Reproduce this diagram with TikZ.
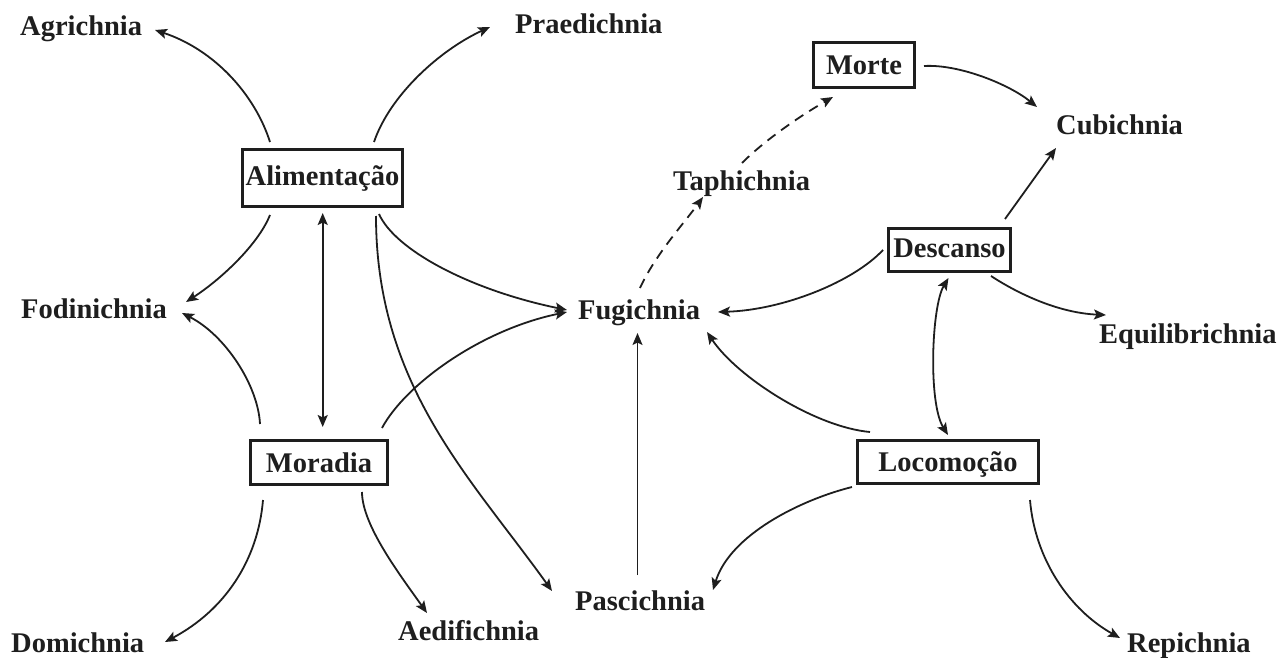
\documentclass[tikz,border=0pt]{standalone}
\usepackage{fontspec}
\setmainfont{Liberation Serif}
\usetikzlibrary{arrows.meta}
\definecolor{ink}{HTML}{1E1E1E}
\begin{document}
\begin{tikzpicture}[x=1pt,y=-1pt,
  lbl/.style={anchor=base west,inner sep=0pt,font=\fontsize{28.5}{34}\selectfont\bfseries,text=ink},
  boxn/.style={draw=ink,line width=3pt,inner sep=0pt,font=\fontsize{28.5}{34}\selectfont\bfseries,text=ink,text height=19pt,text depth=0pt},
  arr/.style={draw=ink,line width=1.8pt,-{Stealth[length=12pt,width=10pt,inset=2.5pt]}},
  darr/.style={draw=ink,line width=1.8pt,{Stealth[length=12pt,width=10pt,inset=2.5pt]}-{Stealth[length=12pt,width=10pt,inset=2.5pt]}},
  dsh/.style={arr,dash pattern=on 10pt off 7pt}]
\useasboundingbox (0,0) rectangle (1282,658);

% text labels
\node[lbl] (agr) at (20,36) {Agrichnia};
\node[lbl] (pra) at (515,34) {Praedichnia};
\node[lbl] (fod) at (21,318) {Fodinichnia};
\node[lbl] (dom) at (11,652) {Domichnia};
\node[lbl] (aed) at (398,640) {Aedifichnia};
\node[lbl] (pas) at (575,610) {Pascichnia};
\node[lbl] (fug) at (578,319) {Fugichnia};
\node[lbl] (tap) at (673,190) {Taphichnia};
\node[lbl] (cub) at (1056,135) {Cubichnia};
\node[lbl] (equ) at (1099,343) {Equilibrichnia};
\node[lbl] (rep) at (1127,652) {Repichnia};

% boxes
\node[boxn,minimum width=160pt,minimum height=57pt,text depth=5pt] (ali) at (322.5,178) {Alimentação};
\node[boxn,minimum width=137pt,minimum height=44pt] (mor) at (319,462.5) {Moradia};
\node[boxn,minimum width=101pt,minimum height=45pt] (mrt) at (864,65) {Morte};
\node[boxn,minimum width=122pt,minimum height=43pt,text depth=5pt] (des) at (949.5,250) {Descanso};
\node[boxn,minimum width=181pt,minimum height=43pt] (loc) at (948,462) {Locomoção};

% connectors
\draw[arr] ([shift={(-52.5,-36)}]ali.center) .. controls +(-15,-47) and +(60,20) .. ([shift={(135,-6)}]agr.base west);
\draw[arr] ([shift={(51.5,-36)}]ali.center) .. controls +(16,-47) and +(-50,23) .. ([shift={(-25,-7)}]pra.base west);
\draw[arr] ([shift={(-52.5,37)}]ali.center) .. controls +(-12,30) and +(34,-22) .. ([shift={(165,-16)}]fod.base west);
\draw[arr] ([shift={(-59,-38.5)}]mor.center) .. controls +(-2,-39) and +(43,22) .. ([shift={(161,-5)}]fod.base west);
\draw[darr] ([shift={(0.2,35)}]ali.center) -- ([shift={(3.7,-35.5)}]mor.center);
\draw[arr] ([shift={(53.5,38)}]ali.center) .. controls +(0,170) and +(-80,-112) .. ([shift={(-23,-19)}]pas.base west);
\draw[arr] ([shift={(56.5,36)}]ali.center) .. controls +(16,36) and +(-97,-20) .. ([shift={(-11,-9)}]fug.base west);
\draw[arr] ([shift={(63,-34.5)}]mor.center) .. controls +(23,-43) and +(-87,18) .. ([shift={(-11,-7)}]fug.base west);
\draw[arr] ([shift={(-56,37.5)}]mor.center) .. controls +(-5,60) and +(60,-32) .. ([shift={(154,-10)}]dom.base west);
\draw[arr] ([shift={(43,29.5)}]mor.center) .. controls +(0,33) and +(-27,-38) .. ([shift={(29,-27)}]aed.base west);
\draw[arr] ([shift={(62.5,-35)}]pas.base west) -- ([shift={(59.5,14)}]fug.base west);
\draw[dsh] ([shift={(62,-31)}]fug.base west) .. controls +(15,-33) and +(-18,25) .. ([shift={(30,7)}]tap.base west);
\draw[dsh] ([shift={(69,-27)}]tap.base west) .. controls +(23,-23) and +(-33,19) .. ([shift={(-31,32)}]mrt.center);
\draw[arr] ([shift={(60,1)}]mrt.center) .. controls +(36,-2) and +(-27,-22) .. ([shift={(-19,-28)}]cub.base west);
\draw[arr] ([shift={(55.5,-31)}]des.center) -- ([shift={(0,13)}]cub.base west);
\draw[arr] ([shift={(-66.5,0)}]des.center) .. controls +(-30,32) and +(65,-2) .. ([shift={(140,-7)}]fug.base west);
\draw[arr] ([shift={(41.5,26)}]des.center) .. controls +(29,19) and +(-46,-2) .. ([shift={(7,-28)}]equ.base west);
\draw[darr] ([shift={(-1,28)}]des.center) .. controls +(-17,28) and +(-20,-32) .. ([shift={(0,-27)}]loc.center);
\draw[arr] ([shift={(-78,-30)}]loc.center) .. controls +(-55,-5) and +(30,45) .. ([shift={(129,13)}]fug.base west);
\draw[arr] ([shift={(-96,25)}]loc.center) .. controls +(-52,13) and +(17,-55) .. ([shift={(138,-20)}]pas.base west);
\draw[arr] ([shift={(82,38)}]loc.center) .. controls +(5,60) and +(-50,-28) .. ([shift={(-7,-14)}]rep.base west);
\end{tikzpicture}
\end{document}
